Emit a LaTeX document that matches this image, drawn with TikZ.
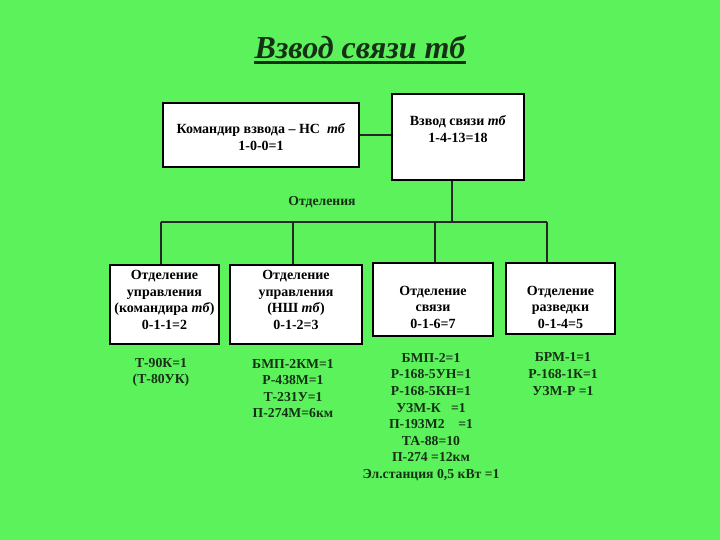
\documentclass[tikz,border=0pt]{standalone}
\usepackage{fontspec}
\setmainfont{Liberation Serif}
\definecolor{bg}{RGB}{92,242,92}
\definecolor{dk}{RGB}{22,48,22}
\begin{document}
\begin{tikzpicture}[x=1pt,y=-1pt,
  box/.style={draw=black,line width=2.6pt,fill=white,inner sep=0pt},
  btxt/.style={font=\fontsize{14}{16.5}\selectfont\bfseries,align=center,text=black,inner sep=0pt},
  ltxt/.style={font=\fontsize{13.7}{16.6}\selectfont\bfseries,align=center,text=dk,inner sep=0pt},
  wire/.style={line width=2.6pt,draw=black!85}]
\fill[bg] (0,0) rectangle (720,540);
\useasboundingbox (0,0) rectangle (720,540);
% title
\node[anchor=base,inner sep=0pt,text=dk,font=\fontsize{32}{36}\selectfont\bfseries\itshape] (title) at (360,59) {Взвод связи тб};
\draw[dk,line width=2.5pt] ([yshift=-3.5pt]title.base west) -- ([yshift=-3.5pt]title.base east);
% top boxes
\node[box,minimum width=196pt,minimum height=64pt] (b1) at (261,135) {};
\node[btxt] (t1) at (261,137) {Командир взвода – НС\ \ \textit{тб}\\1-0-0=1};
\node[box,minimum width=132pt,minimum height=86pt] (b2) at (458,137) {};
\node[btxt] (t2) at (458,129) {Взвод связи \textit{тб}\\1-4-13=18};
\draw[wire] (b1.east) -- (b1.east -| b2.west);
% bus
\coordinate (j) at (452,222);
\coordinate (d1) at (161,222);
\coordinate (d2) at (293,222);
\coordinate (d3) at (435,222);
\coordinate (d4) at (547,222);
\draw[wire] (b2.south -| j) -- (j);
\draw[wire] (d1) -- (d4);
\node[ltxt] (otd) at (322,202) {Отделения};
% section boxes
\node[box,minimum width=109pt,minimum height=79pt] (bA) at (164.5,304.5) {};
\node[box,minimum width=132pt,minimum height=79pt] (bB) at (296,304.5) {};
\node[box,minimum width=120pt,minimum height=73pt] (bC) at (433,299.5) {};
\node[box,minimum width=109pt,minimum height=71pt] (bD) at (560.5,298.5) {};
\draw[wire] (d1) -- (d1 |- bA.north);
\draw[wire] (d2) -- (d2 |- bB.north);
\draw[wire] (d3) -- (d3 |- bC.north);
\draw[wire] (d4) -- (d4 |- bD.north);
\node[btxt] (tA) at (164.5,300) {Отделение\\управления\\(командира \textit{тб})\\0-1-1=2};
\node[btxt] (tB) at (296,300) {Отделение\\управления\\(НШ \textit{тб})\\0-1-2=3};
\node[btxt] (tC) at (433,307) {Отделение\\связи\\0-1-6=7};
\node[btxt] (tD) at (560.5,307) {Отделение\\разведки\\0-1-4=5};
% equipment lists
\node[ltxt] (lA) at (161,372.5) {Т-90К=1\\(Т-80УК)};
\node[ltxt] (lB) at (293,388.5) {БМП-2КМ=1\\Р-438М=1\\Т-231У=1\\П-274М=6км};
\node[ltxt] (lC) at (431,417) {БМП-2=1\\Р-168-5УН=1\\Р-168-5КН=1\\УЗМ-К\ \ \ =1\\П-193М2\ \ \ \ =1\\ТА-88=10\\П-274 =12км\\Эл.станция 0,5 кВт =1};
\node[ltxt] (lD) at (563,374) {БРМ-1=1\\Р-168-1К=1\\УЗМ-Р =1};
\end{tikzpicture}
\end{document}
